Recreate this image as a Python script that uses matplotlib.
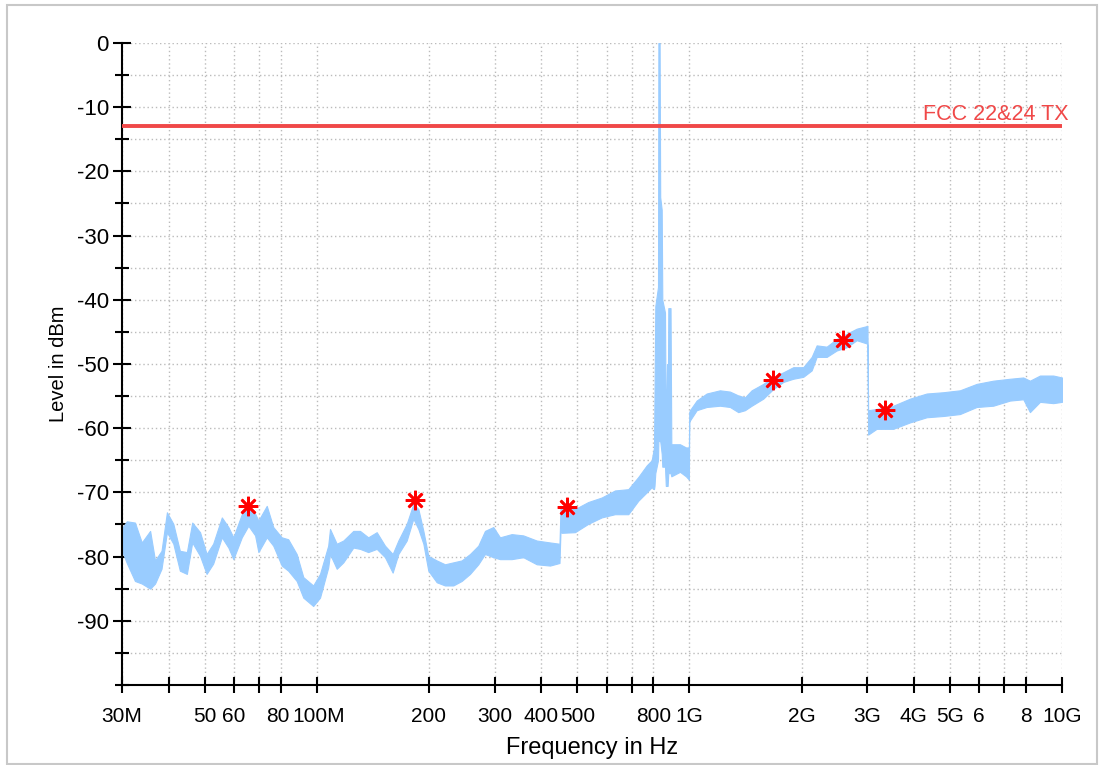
import numpy as np
import matplotlib.pyplot as plt
from matplotlib.patches import Rectangle
from matplotlib.transforms import ScaledTranslation
from matplotlib.ticker import FixedLocator, FixedFormatter, NullLocator, MultipleLocator

# spectrum envelope (MHz, dBm)
freq_mhz = [30.0, 30.9, 32.5, 33.9, 35.7, 36.8, 38.3, 39.6, 41.2, 42.9, 44.8, 46.3,
            48.6, 50.6, 52.7, 55.6, 57.9, 59.7, 62.9, 65.5, 68.3, 69.7, 73.4, 76.4,
            80.5, 83.8, 88.3, 92.0, 97.8, 102.0, 107.3, 108.5, 113.1, 117.8, 125.3,
            130.6, 137.4, 144.8, 152.4, 159.8, 165.5, 174.3, 181.6, 187.3, 193.2,
            199.2, 209.8, 220.8, 232.4, 244.8, 257.7, 271.3, 282.7, 297.6, 310.2,
            333.4, 358.2, 389.2, 422.6, 448.1, 450.9, 454.2, 493.1, 535.2, 581.5,
            631.2, 685.5, 729.3, 768.1, 792.2, 803.6, 806.1, 810.1, 823.7, 825.7,
            831.9, 835.0, 842.8, 845.9, 860.1, 864.4, 870.8, 874.1, 877.9, 890.0,
            894.4, 943.4, 979.1, 997.0, 999.0, 1003.5, 1045.9, 1112.5, 1207.8,
            1285.0, 1352.5, 1409.5, 1469.2, 1578.6, 1679.3, 1786.4, 1900.2, 2021.5,
            2129.2, 2196.0, 2335.8, 2484.7, 2643.1, 2811.8, 2991.3, 3005.5, 3018.5,
            3181.5, 3524.7, 3908.9, 4333.9, 4801.8, 5323.0, 5902.0, 6539.0, 7251.0,
            7873.0, 8204.0, 8729.0, 9475.0, 10000.0]
level_upper = [-75.6, -74.5, -74.7, -77.8, -76.0, -80.6, -79.1, -73.1, -74.9, -79.1, -79.3, -74.7,
               -76.2, -79.6, -78.0, -73.9, -75.4, -77.0, -73.4, -72.3, -73.3, -74.4, -72.1, -75.4,
               -77.0, -77.3, -79.6, -83.2, -84.5, -82.7, -78.3, -75.7, -78.0, -77.5, -76.0,
               -76.0, -77.0, -76.2, -78.3, -79.6, -77.5, -74.9, -71.8, -72.6, -76.0,
               -79.9, -80.6, -81.2, -80.9, -80.6, -79.6, -78.3, -76.0, -75.4, -77.0,
               -76.5, -76.7, -77.5, -77.8, -78.0, -72.5, -72.6, -72.6, -71.5, -70.8,
               -69.7, -69.5, -67.6, -65.8, -65.0, -63.0, -55.0, -41.0, -38.0, 0.0,
               0.0, -24.0, -26.0, -40.0, -42.0, -62.0, -50.0, -62.0, -41.3, -41.3,
               -62.5, -62.5, -63.0, -63.0, -57.5, -57.2, -55.7, -54.6, -54.1,
               -54.3, -54.9, -55.2, -54.1, -53.1, -52.0, -51.3, -50.5, -50.5,
               -48.9, -47.1, -47.3, -46.1, -45.3, -44.5, -44.1, -44.1, -57.2,
               -57.0, -56.5, -55.4, -54.6, -54.4, -54.1, -53.1, -52.6, -52.3,
               -52.1, -52.6, -51.8, -51.8, -52.1]
level_lower = [-79.1, -81.0, -83.8, -84.2, -85.0, -84.2, -81.9, -76.2, -78.0, -82.2, -82.7, -77.8,
               -79.9, -82.7, -81.1, -77.0, -78.6, -80.4, -77.0, -75.2, -76.7, -79.3, -77.0, -78.3,
               -81.4, -82.2, -83.8, -86.4, -87.7, -86.4, -81.7, -79.6, -81.9, -80.9, -78.6,
               -78.8, -79.3, -78.8, -80.1, -82.5, -79.6, -77.5, -74.1, -75.7, -78.0,
               -82.2, -84.0, -84.5, -84.5, -83.8, -82.7, -81.2, -79.6, -80.1, -80.4,
               -80.4, -80.1, -81.2, -81.4, -81.0, -76.0, -76.3, -76.2, -74.9, -73.9,
               -73.4, -73.4, -71.3, -70.0, -69.2, -69.5, -69.0, -67.0, -65.0, -62.0,
               -62.0, -62.0, -64.0, -66.0, -66.0, -69.0, -69.0, -69.0, -67.0, -67.0,
               -67.5, -66.8, -67.5, -68.0, -59.0, -58.8, -57.2, -56.7, -56.5,
               -56.7, -57.5, -57.2, -56.5, -55.4, -53.9, -52.8, -52.3, -52.0,
               -51.0, -48.9, -48.9, -47.9, -47.4, -46.3, -46.8, -47.0, -61.0,
               -60.1, -60.1, -59.1, -58.3, -58.1, -57.8, -56.7, -56.5, -55.7,
               -55.5, -57.5, -55.9, -56.1, -55.9]

# peak markers
peak_freq_mhz = [65.5, 183.7, 468.4, 1679.0, 2588.0, 3348.0]
peak_level = [-72.1, -71.2, -72.2, -52.5, -46.2, -57.2]

limit_level = -13
limit_name = 'FCC 22&24 TX'

x_ticks_mhz = [30, 40, 50, 60, 70, 80, 100, 200, 300, 400, 500, 600, 700, 800,
               1000, 2000, 3000, 4000, 5000, 6000, 7000, 8000, 10000]
x_tick_labels = ['30M', '', '50', '60', '', '80', '100M', '200', '300', '400', '500', '', '', '800',
                 '1G', '2G', '3G', '4G', '5G', '6', '', '8', '10G']
y_ticks = [0, -10, -20, -30, -40, -50, -60, -70, -80, -90]

plt.rcParams['font.family'] = ['Liberation Sans', 'DejaVu Sans']
plt.rcParams['axes.unicode_minus'] = False

fig = plt.figure(figsize=(10.99, 7.65), dpi=100)
ax = fig.add_axes([0.111, 0.1046, 0.8553, 0.8392])

f_hz = np.array(freq_mhz) * 1e6
ax.fill_between(f_hz, level_lower, level_upper, color='#99ccff', edgecolor='#99ccff',
                linewidth=0.8, zorder=2)

ax.axhline(limit_level, color='#f04848', linewidth=2.8, zorder=3)
ax.text(1.0068, limit_level + 0.3, limit_name, transform=ax.get_yaxis_transform(),
        ha='right', va='bottom', color='#f04848', fontsize=15.5)

ax.plot(np.array(peak_freq_mhz) * 1e6, peak_level, linestyle='none', marker=(8, 2, 0),
        markersize=14, color='red', markeredgewidth=1.9, zorder=4)

ax.set_xscale('log')
ax.set_xlim(30e6, 10e9)
ax.set_ylim(-100, 0)

ax.xaxis.set_major_locator(FixedLocator([v * 1e6 for v in x_ticks_mhz]))
ax.xaxis.set_major_formatter(FixedFormatter(x_tick_labels))
ax.xaxis.set_minor_locator(NullLocator())
ax.yaxis.set_major_locator(FixedLocator(y_ticks))
ax.yaxis.set_minor_locator(MultipleLocator(5))

for s in ['top', 'right']:
    ax.spines[s].set_visible(False)
for s in ['left', 'bottom']:
    ax.spines[s].set_linewidth(1.5)

ax.tick_params(axis='x', which='major', direction='inout', length=11, width=1.5,
               labelsize=15, pad=10)
ax.tick_params(axis='y', which='major', direction='inout', length=13, width=1.5,
               labelsize=16, pad=3)
ax.tick_params(axis='y', which='minor', direction='inout', length=10, width=1.5)

# "80" and "100M" sit very close together, nudge them apart a little
xticks = ax.xaxis.get_major_ticks()
for idx, dx in [(5, -2.5), (6, 2.0)]:
    lab = xticks[idx].label1
    lab.set_transform(lab.get_transform() + ScaledTranslation(dx / 100, 0, fig.dpi_scale_trans))

grid_style = dict(linestyle=(0, (1, 2)), color='#bbbbbb', linewidth=1.0)
ax.grid(True, which='both', axis='y', **grid_style)
ax.grid(True, which='major', axis='x', **grid_style)
ax.set_axisbelow(True)

ax.set_xlabel('Frequency in Hz', fontsize=17, labelpad=8)
ax.set_ylabel('Level in dBm', fontsize=14.5, labelpad=6)

fig.patches.append(Rectangle((0.0064, 0.0013), 0.9916, 0.9922, transform=fig.transFigure,
                             fill=False, edgecolor='#c8c8c8', linewidth=1.5))

fig.savefig('out.png', dpi=100)
